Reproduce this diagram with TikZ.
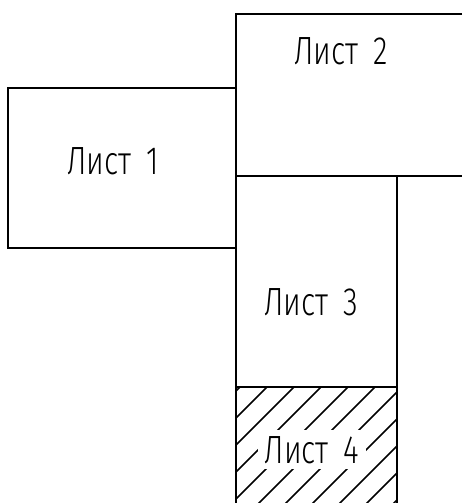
\documentclass[tikz,border=0pt]{standalone}
\usepackage{fontspec}
\setmainfont{Fira Sans Light}
\usepackage{tikz}
\usetikzlibrary{calc}
\newcommand{\sheetlabel}[1]{\scalebox{0.76}[1]{Лист\hspace{0.5em}#1}}

\begin{document}
\begin{tikzpicture}[
  x=0.025cm, y=-0.025cm,
  sheet/.style={line width=1.3pt},
  hatch/.style={line width=1.1pt},
  lbl/.style={font=\fontsize{28}{32}\selectfont, inner sep=1pt, anchor=base}
]
  \useasboundingbox (0,0) rectangle (462,503);

  % sheets
  \draw[sheet] (8,88) rectangle (236,248);
  \draw[sheet] (462,14) -- (236,14) -- (236,176) -- (462,176);
  \draw[sheet] (236,176) rectangle (397,387);
  \draw[sheet] (236,503) -- (236,387) -- (397,387) -- (397,503);

  % hatching of sheet 4
  \begin{scope}
    \clip (236,387) rectangle (397,503);
    \foreach \c in {627,654,...,920}
      \draw[hatch] (\c-370,370) -- (\c-520,520);
  \end{scope}

  \node[lbl] (l1) at (113,175) {\sheetlabel{1}};
  \node[lbl] (l2) at (341,65) {\sheetlabel{2}};
  \node[lbl] (l3) at (311,315) {\sheetlabel{3}};
  \node[lbl, fill=white, inner xsep=5pt, inner ysep=4pt] (l4) at (312,463) {\sheetlabel{4}};
\end{tikzpicture}
\end{document}
